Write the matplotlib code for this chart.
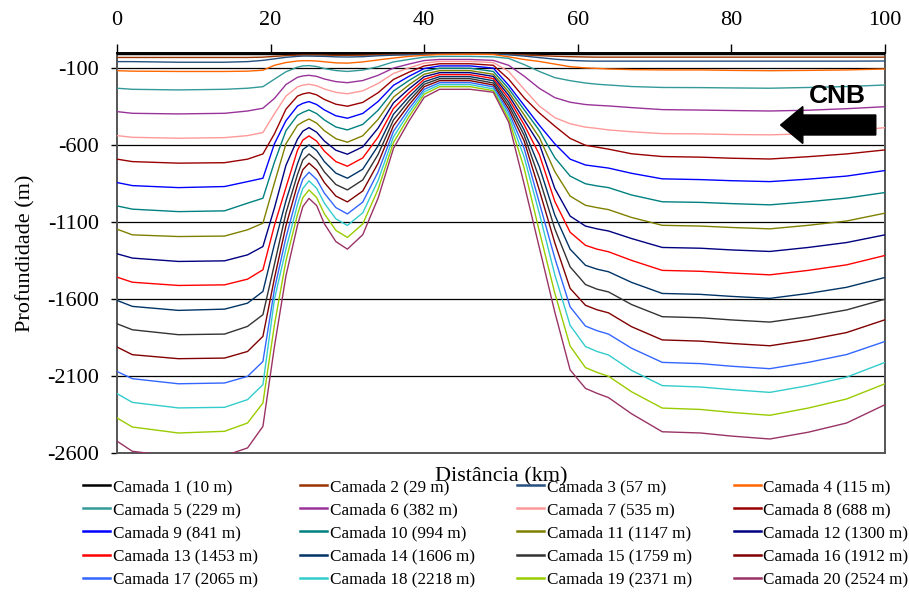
import matplotlib
matplotlib.use("Agg")
import matplotlib.pyplot as plt
from matplotlib.lines import Line2D
from matplotlib.patches import FancyArrow

plt.rcParams["font.family"] = ["Liberation Serif", "DejaVu Serif"]

# Distance along the section (km)
distancia = [0, 2, 8, 14, 17, 19,
             20.5, 22, 23.5, 24.2, 25, 26,
             27, 28.5, 30, 32, 34, 36,
             38, 40, 42, 46, 49, 51,
             53, 55, 57, 59, 61, 62.5,
             64, 67, 71, 76, 80, 85,
             90, 95, 100]

# Depth of each layer interface (m) along the section
camada_01 = [-10, -10, -10, -10, -10, -10,
             -10, -9, -9, -8, -8, -8,
             -8, -9, -9, -9, -8, -7,
             -6, -5, -5, -5, -5, -6,
             -7, -8, -9, -10, -10, -10,
             -10, -10, -10, -10, -10, -10,
             -10, -10, -10]
camada_02 = [-29, -29, -29, -29, -29, -27,
             -22, -17, -14, -13, -13, -13,
             -14, -15, -15, -14, -12, -10,
             -9, -8, -7, -7, -7, -9,
             -13, -17, -21, -24, -26, -27,
             -27, -27, -27, -27, -27, -27,
             -27, -27, -27]
camada_03 = [-56, -56, -60, -60, -56, -48,
             -38, -28, -22, -20, -20, -21,
             -22, -25, -26, -24, -18, -14,
             -12, -10, -8, -8, -8, -12,
             -20, -30, -40, -48, -52, -53,
             -53, -53, -53, -53, -53, -53,
             -53, -53, -52]
camada_04 = [-115, -118, -120, -120, -118, -112,
             -80, -62, -52, -50, -50, -52,
             -57, -64, -66, -58, -45, -33,
             -22, -15, -10, -8, -10, -25,
             -42, -55, -72, -89, -97, -100,
             -104, -108, -110, -110, -113, -115,
             -113, -110, -104]
camada_05 = [-229, -236, -240, -236, -229, -219,
             -170, -122, -92, -84, -82, -88,
             -101, -114, -120, -111, -89, -58,
             -42, -27, -22, -22, -25, -35,
             -75, -120, -160, -180, -195, -203,
             -208, -218, -224, -225, -227, -229,
             -224, -218, -208]
camada_06 = [-381, -392, -396, -392, -377, -359,
             -295, -205, -158, -149, -145, -152,
             -169, -186, -193, -179, -145, -98,
             -72, -49, -42, -42, -48, -80,
             -150, -230, -290, -320, -335, -340,
             -344, -355, -368, -371, -374, -377,
             -372, -362, -349]
camada_07 = [-537, -548, -554, -550, -537, -517,
             -395, -280, -220, -209, -203, -213,
             -234, -256, -265, -246, -198, -133,
             -97, -66, -55, -55, -62, -120,
             -235, -345, -420, -460, -482, -490,
             -500, -512, -524, -526, -530, -532,
             -525, -510, -485]
camada_08 = [-690, -706, -716, -713, -690, -656,
             -525, -365, -280, -266, -258, -272,
             -302, -333, -346, -321, -258, -172,
             -125, -84, -70, -70, -80, -170,
             -290, -390, -475, -555, -600, -612,
             -625, -655, -673, -677, -684, -689,
             -674, -656, -630]
camada_09 = [-842, -862, -875, -868, -836, -814,
             -590, -440, -345, -327, -316, -335,
             -370, -408, -424, -393, -315, -210,
             -152, -101, -84, -84, -98, -210,
             -340, -470, -590, -690, -728, -738,
             -748, -782, -818, -823, -830, -836,
             -820, -800, -764]
camada_10 = [-994, -1015, -1031, -1026, -976, -944,
             -709, -505, -405, -386, -370, -394,
             -435, -481, -500, -464, -372, -247,
             -179, -119, -99, -99, -120, -232,
             -368, -504, -680, -800, -850, -864,
             -875, -923, -967, -971, -979, -987,
             -967, -943, -907]
camada_11 = [-1145, -1182, -1193, -1190, -1149, -1106,
             -844, -590, -470, -448, -429, -456,
             -505, -557, -580, -538, -431, -287,
             -208, -138, -115, -115, -138, -254,
             -401, -549, -770, -930, -990, -1005,
             -1018, -1069, -1120, -1125, -1134, -1143,
             -1120, -1092, -1041]
camada_12 = [-1305, -1333, -1355, -1351, -1312, -1258,
             -1007, -730, -560, -508, -485, -515,
             -572, -632, -658, -610, -488, -324,
             -234, -154, -128, -128, -152, -275,
             -434, -592, -880, -1060, -1125, -1143,
             -1157, -1206, -1264, -1269, -1280, -1290,
             -1264, -1232, -1182]
camada_13 = [-1457, -1490, -1511, -1507, -1470, -1409,
             -1120, -874, -632, -566, -539, -573,
             -638, -706, -736, -682, -546, -361,
             -260, -171, -141, -141, -166, -297,
             -465, -661, -964, -1165, -1250, -1275,
             -1292, -1348, -1413, -1419, -1430, -1442,
             -1413, -1377, -1316]
camada_14 = [-1608, -1647, -1673, -1665, -1626, -1550,
             -1243, -960, -720, -628, -597, -634,
             -706, -781, -814, -755, -603, -398,
             -286, -187, -154, -154, -180, -319,
             -500, -741, -1053, -1275, -1380, -1405,
             -1422, -1491, -1563, -1569, -1582, -1595,
             -1563, -1523, -1459]
camada_15 = [-1760, -1799, -1831, -1827, -1777, -1701,
             -1373, -1040, -790, -695, -656, -697,
             -773, -855, -890, -825, -659, -435,
             -312, -203, -167, -167, -195, -341,
             -533, -817, -1142, -1390, -1505, -1535,
             -1553, -1635, -1714, -1721, -1735, -1749,
             -1714, -1670, -1600]
camada_16 = [-1911, -1961, -1987, -1983, -1940, -1842,
             -1464, -1123, -855, -758, -716, -760,
             -842, -930, -968, -897, -716, -472,
             -338, -219, -180, -180, -208, -363,
             -570, -893, -1233, -1530, -1640, -1669,
             -1689, -1779, -1865, -1873, -1888, -1903,
             -1865, -1817, -1734]
camada_17 = [-2070, -2117, -2150, -2145, -2102, -2005,
             -1535, -1200, -920, -820, -775, -822,
             -911, -1005, -1046, -969, -773, -509,
             -364, -236, -193, -193, -220, -384,
             -618, -975, -1332, -1650, -1775, -1805,
             -1827, -1919, -2011, -2019, -2036, -2052,
             -2011, -1960, -1875]
camada_18 = [-2214, -2271, -2307, -2303, -2253, -2156,
             -1600, -1274, -985, -880, -831, -880,
             -976, -1078, -1121, -1039, -828, -545,
             -389, -252, -206, -206, -233, -406,
             -674, -1044, -1440, -1770, -1908, -1940,
             -1963, -2063, -2162, -2171, -2188, -2206,
             -2162, -2107, -2011]
camada_19 = [-2372, -2431, -2470, -2459, -2405, -2275,
             -1767, -1350, -1050, -940, -890, -940,
             -1045, -1153, -1199, -1111, -885, -582,
             -415, -268, -219, -219, -245, -428,
             -746, -1160, -1560, -1905, -2045, -2076,
             -2101, -2202, -2308, -2317, -2336, -2355,
             -2308, -2249, -2150]
camada_20 = [-2523, -2589, -2625, -2618, -2567, -2427,
             -1908, -1448, -1120, -998, -945, -992,
             -1110, -1226, -1275, -1181, -943, -620,
             -444, -288, -236, -236, -255, -450,
             -850, -1267, -1683, -2060, -2180, -2212,
             -2240, -2345, -2462, -2470, -2490, -2509,
             -2465, -2405, -2286]

camadas = [camada_01, camada_02, camada_03, camada_04, camada_05,
           camada_06, camada_07, camada_08, camada_09, camada_10,
           camada_11, camada_12, camada_13, camada_14, camada_15,
           camada_16, camada_17, camada_18, camada_19, camada_20]

profundidade_media = [10, 29, 57, 115, 229, 382, 535, 688, 841, 994,
                      1147, 1300, 1453, 1606, 1759, 1912, 2065, 2218, 2371, 2524]

cores = ["#000000", "#993300", "#254F7F", "#FF6600", "#339999",
         "#993399", "#FF9999", "#990000", "#0000FF", "#008080",
         "#808000", "#000080", "#FF0000", "#003366", "#333333",
         "#800000", "#3366FF", "#33CCCC", "#99CC00", "#993366"]

x_ticks = [0, 20, 40, 60, 80, 100]
y_ticks = [-100, -600, -1100, -1600, -2100, -2600]
y_tick_labels = ["-100", "-600", "-1100", "-1600", "-2100", "-2600"]

fig = plt.figure(figsize=(9.09, 6.08), dpi=100)
ax = fig.add_axes([117 / 909, 1 - 453 / 608, 768 / 909, 400 / 608])

rotulos = []
for i, (prof, cor, dm) in enumerate(zip(camadas, cores, profundidade_media)):
    rotulos.append(f"Camada {i + 1} ({dm} m)")
    ax.plot(distancia, prof, color=cor, lw=1.0, zorder=3,
            solid_joinstyle="round")

ax.set_xlim(0, 100)
ax.set_ylim(-2600, 0)

ax.xaxis.tick_top()
ax.set_xticks(x_ticks)
ax.tick_params(axis="x", which="both", direction="out", length=6.5, width=1.0,
               pad=10, labelsize=16, top=True, bottom=False,
               labeltop=True, labelbottom=False)
ax.set_yticks(y_ticks)
ax.set_yticklabels(y_tick_labels)
ax.tick_params(axis="y", direction="out", length=4, width=1.0, pad=9, labelsize=16)

ax.yaxis.grid(True, color="black", lw=0.9, zorder=1)
ax.set_axisbelow(True)

for side in ["left", "right", "bottom"]:
    ax.spines[side].set_color("#555555")
    ax.spines[side].set_linewidth(1.4)
ax.spines["top"].set_color("black")
ax.spines["top"].set_linewidth(1.4)

ax.xaxis.set_label_position("bottom")
ax.set_xlabel("Distância (km)", fontsize=16, labelpad=10)
ax.set_ylabel("Profundidade (m)", fontsize=16, labelpad=8)

# Current label and direction arrow
ax.text(93.8, -279, "CNB", fontsize=19, fontweight="bold",
        family=["Liberation Sans", "DejaVu Sans"], ha="center", va="center",
        zorder=5)
ax.add_patch(FancyArrow(98.8, -468, -12.4, 0, width=130, head_width=240,
                        head_length=2.9, length_includes_head=True,
                        color="black", zorder=5))

# Legend laid out row by row (4 columns)
handles = [Line2D([], [], color=c, lw=1.8) for c in cores]
ncol, nrow = 4, 5
order = [r * ncol + c for c in range(ncol) for r in range(nrow)]
fig.legend([handles[k] for k in order], [rotulos[k] for k in order],
           ncol=ncol, loc="upper left", bbox_to_anchor=(83 / 909, 1 - 479 / 608),
           frameon=False, fontsize=12.3, handlelength=1.6, handletextpad=0.15,
           columnspacing=2.45, labelspacing=0.42, borderpad=0, borderaxespad=0)

fig.savefig("out.png", dpi=100)
